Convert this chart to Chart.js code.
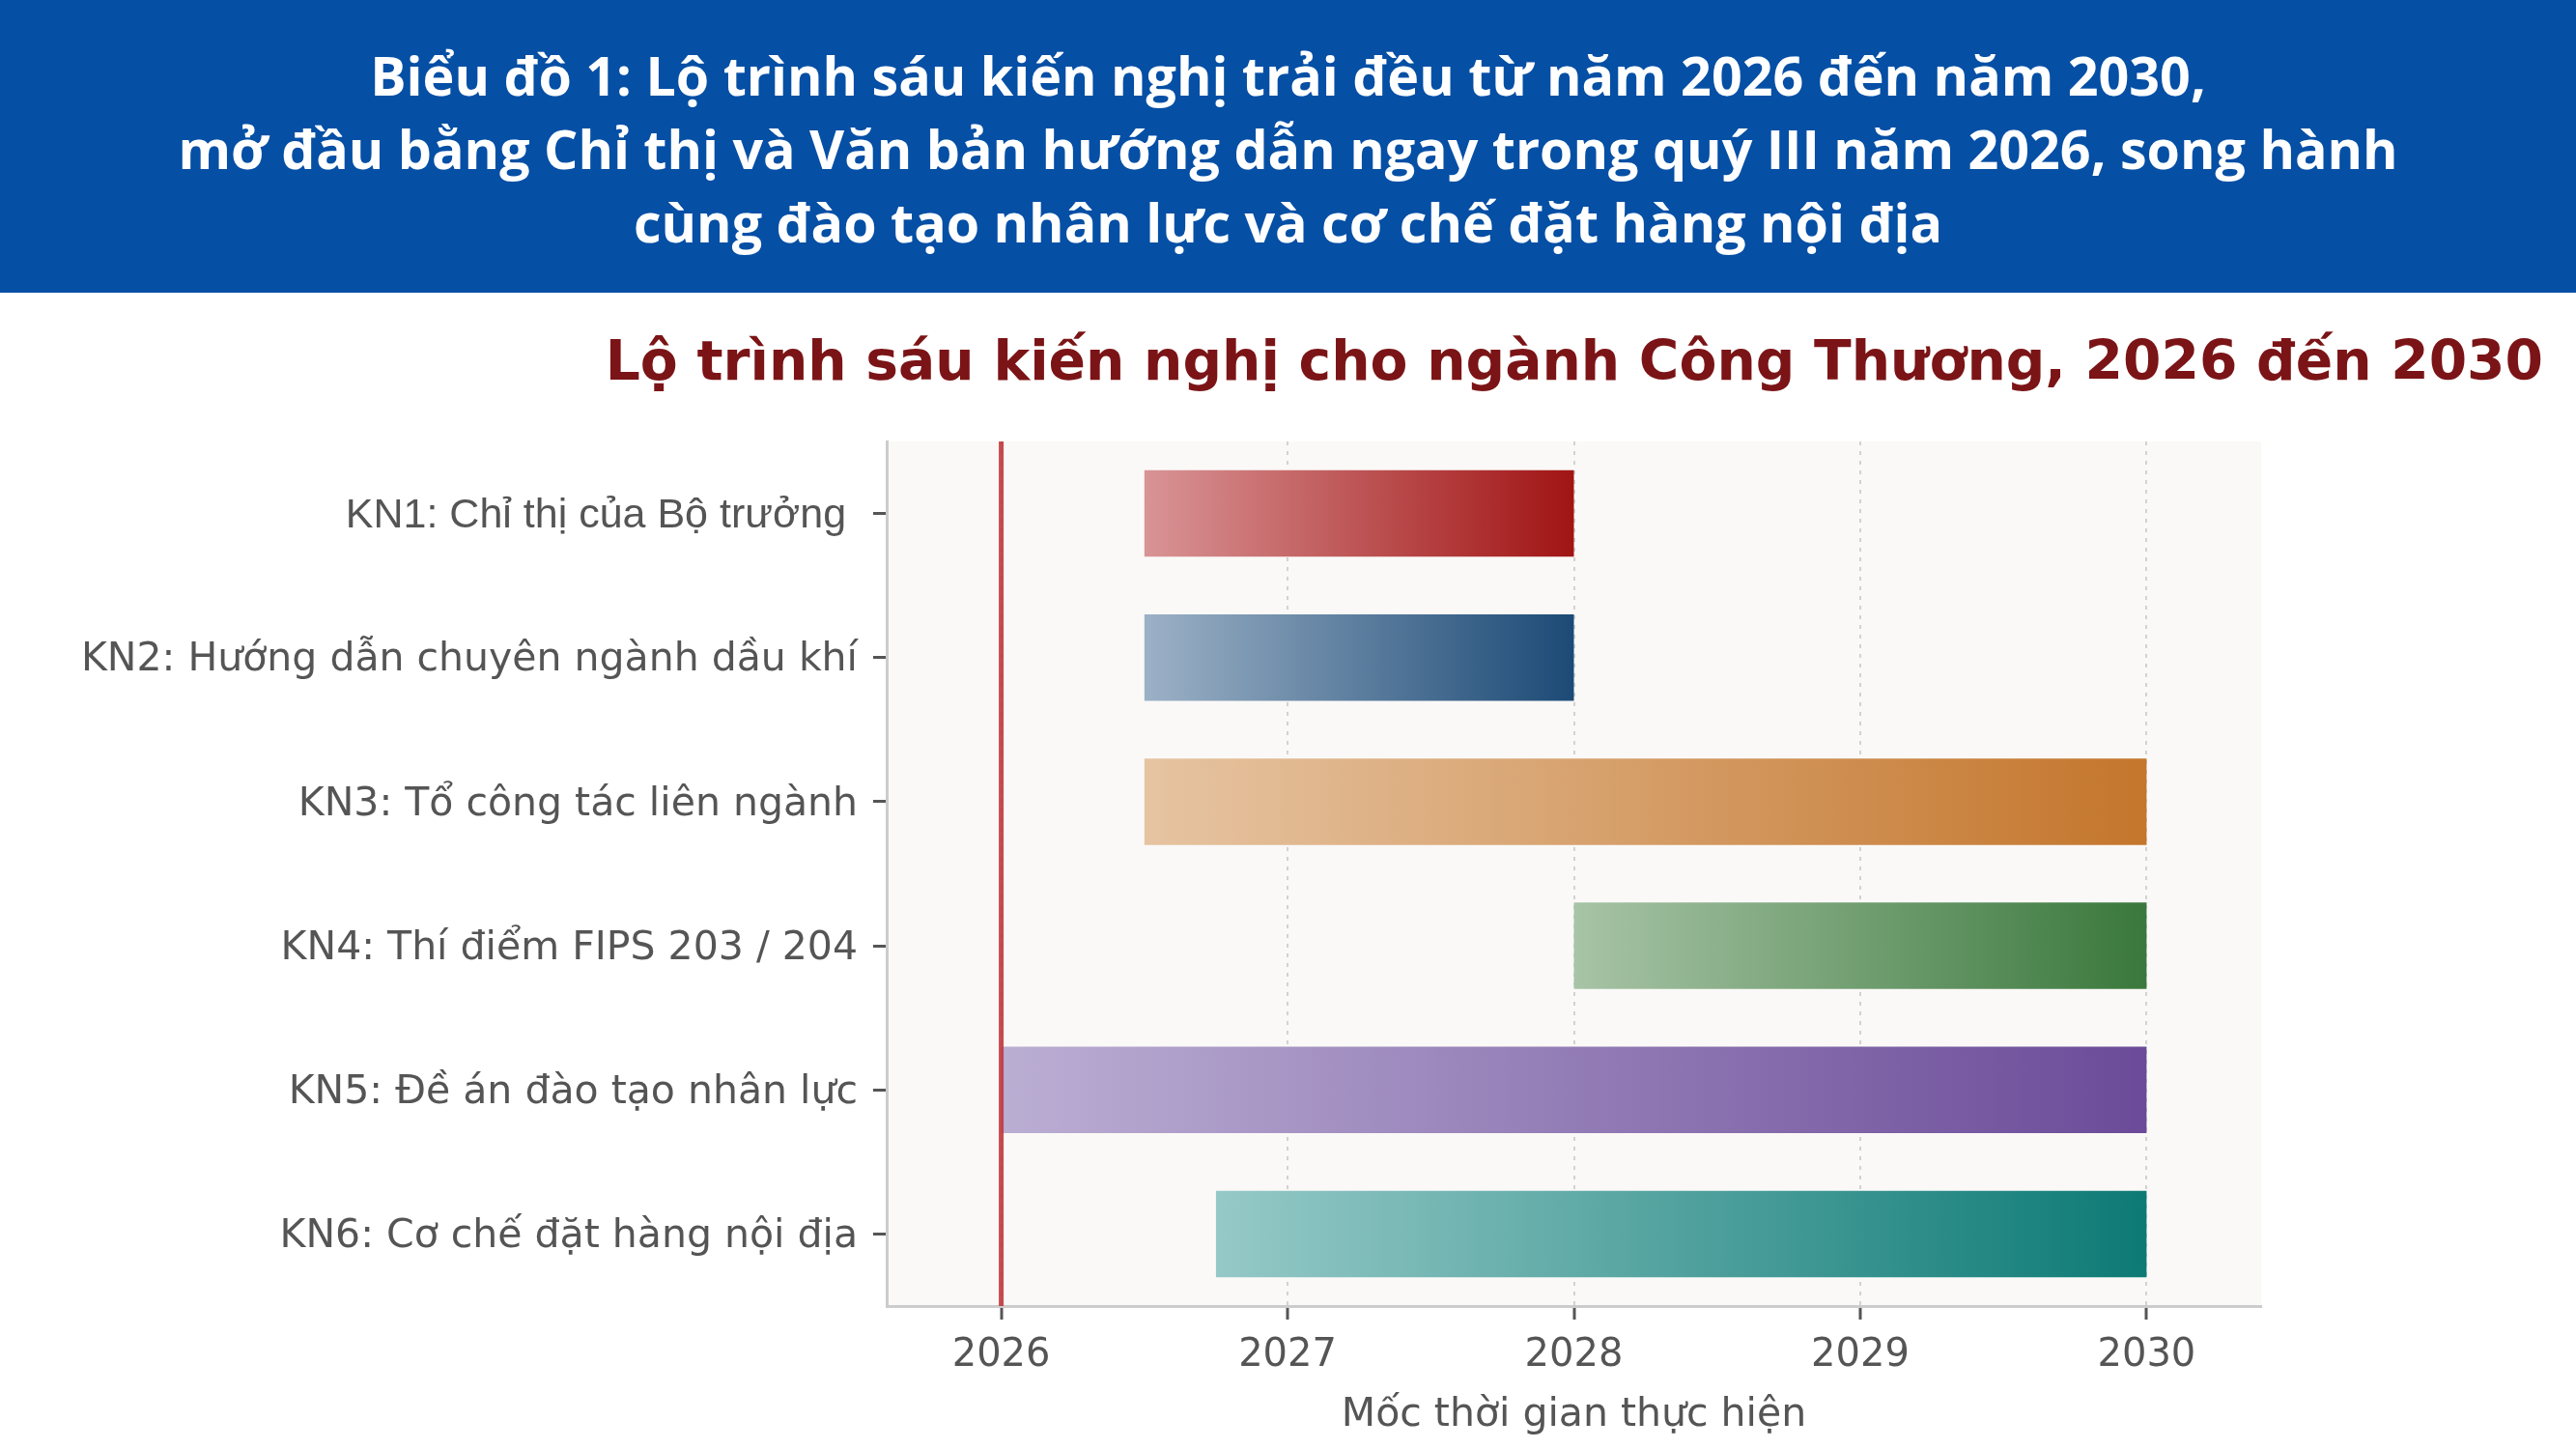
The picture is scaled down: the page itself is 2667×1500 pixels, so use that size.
<!DOCTYPE html>
<html lang="vi">
<head>
<meta charset="utf-8">
<title>Lộ trình sáu kiến nghị</title>
<script src="https://cdn.jsdelivr.net/npm/chart.js@4.4.1/dist/chart.umd.min.js"></script>
<style>
  html, body { margin: 0; padding: 0; background: #fff; }
  #page { position: relative; width: 2667px; height: 1500px; overflow: hidden; }
  #header {
    position: absolute; left: 0; top: 0; width: 2667px; height: 303px;
    background: #054fa5; color: #fff; z-index: 2;
    font-family: "Open Sans", sans-serif; font-weight: 700; font-size: 55.6px;
    line-height: 76px; text-align: center;
    display: flex; align-items: center; justify-content: center;
  }
  #header div { position: relative; top: 2px; }
  #subtitle {
    position: absolute; right: 34px; top: 335px; z-index: 2;
    font-family: "DejaVu Sans", sans-serif; font-weight: 700; font-size: 56.7px;
    color: #7b1416; white-space: nowrap; line-height: 76px;
  }
  #wrap { position: absolute; left: 0; top: 0; width: 2667px; height: 1500px; z-index: 1; }
</style>
</head>
<body>
<div id="page">
  <div id="header"><div>Biểu đồ 1: Lộ trình sáu kiến nghị trải đều từ năm 2026 đến năm 2030,<br>mở đầu bằng Chỉ thị và Văn bản hướng dẫn ngay trong quý III năm 2026, song hành<br>cùng đào tạo nhân lực và cơ chế đặt hàng nội địa</div></div>
  <div id="subtitle">Lộ trình sáu kiến nghị cho ngành Công Thương, 2026 đến 2030</div>
  <div id="wrap"><canvas id="roadmap"></canvas></div>
</div>
<script>
// data
const kienNghi = [
    'KN1: Chỉ thị của Bộ trưởng ',
    'KN2: Hướng dẫn chuyên ngành dầu khí',
    'KN3: Tổ công tác liên ngành',
    'KN4: Thí điểm FIPS 203 / 204',
    'KN5: Đề án đào tạo nhân lực',
    'KN6: Cơ chế đặt hàng nội địa'
];
const batDau = [2026.5, 2026.5, 2026.5, 2028, 2026, 2026.75];
const ketThuc = [2028, 2028, 2030, 2030, 2030, 2030];
const mocNam = [2026, 2027, 2028, 2029, 2030];
const mocKhoiDong = 2026;

// gradient colours, light at the start of each bar, dark at the end
const mauNhat = ['#d99496', '#9cb1c6', '#e6c4a2', '#a8c4a6', '#bbaed3', '#95c9c7'];
const mauDam = ['#a11414', '#1c4a76', '#c4762c', '#3a783c', '#6b4b99', '#0d7a75'];

document.addEventListener('DOMContentLoaded', function() {
    const ctx = document.getElementById('roadmap');

    const plotBackground = {
        id: 'plotBackground',
        beforeDraw(chart) {
            const a = chart.chartArea;
            const c = chart.ctx;
            c.save();
            c.fillStyle = '#faf9f7';
            c.fillRect(a.left, a.top, a.right - a.left, a.bottom - a.top);
            c.restore();
        }
    };

    const startLine = {
        id: 'startLine',
        afterDatasetsDraw(chart) {
            const a = chart.chartArea;
            const x = chart.scales.x.getPixelForValue(mocKhoiDong);
            const c = chart.ctx;
            c.save();
            c.strokeStyle = 'rgba(192, 57, 60, 0.9)';
            c.lineWidth = 5;
            c.beginPath();
            c.moveTo(x, a.top);
            c.lineTo(x, a.bottom);
            c.stroke();
            c.restore();
        }
    };

    new Chart(ctx, {
        type: 'bar',
        data: {
            labels: kienNghi,
            datasets: [{
                data: batDau.map((b, i) => [b, ketThuc[i]]),
                borderWidth: 0,
                borderSkipped: false,
                barPercentage: 0.6,
                categoryPercentage: 1.0,
                backgroundColor: function(c) {
                    const i = c.dataIndex || 0;
                    const chart = c.chart;
                    const xs = chart.scales.x;
                    if (!chart.chartArea || !xs) return mauDam[i];
                    const x0 = xs.getPixelForValue(batDau[i]);
                    const x1 = xs.getPixelForValue(ketThuc[i]);
                    const g = chart.ctx.createLinearGradient(x0, 0, x1, 0);
                    g.addColorStop(0, mauNhat[i]);
                    g.addColorStop(1, mauDam[i]);
                    return g;
                }
            }]
        },
        options: {
            indexAxis: 'y',
            responsive: false,
            animation: false,
            devicePixelRatio: 1,
            layout: { padding: { left: 0, top: 457, right: 326, bottom: 0 } },
            plugins: {
                legend: { display: false },
                tooltip: { enabled: false }
            },
            scales: {
                x: {
                    type: 'linear',
                    min: 2025.6,
                    max: 2030.4,
                    afterBuildTicks: s => { s.ticks = mocNam.map(v => ({ value: v })); },
                    afterFit: s => { s.height = 148; },
                    grid: {
                        color: '#d2d2d2',
                        lineWidth: 2,
                        drawTicks: true,
                        tickLength: 14,
                        tickColor: '#555555',
                        tickWidth: 3,
                        tickBorderDash: []
                    },
                    border: { display: true, color: '#cccccc', width: 3, dash: [4, 6] },
                    ticks: {
                        color: '#555555',
                        padding: 14,
                        font: { family: 'DejaVu Sans', size: 40 },
                        callback: v => String(v)
                    },
                    title: {
                        display: true,
                        text: 'Mốc thời gian thực hiện',
                        color: '#555555',
                        font: { family: 'DejaVu Sans', size: 41 },
                        padding: { top: 0, bottom: 10 }
                    }
                },
                y: {
                    afterFit: s => { s.width = 918; },
                    grid: {
                        offset: false,
                        drawOnChartArea: false,
                        drawTicks: true,
                        tickLength: 14,
                        tickColor: '#555555',
                        tickWidth: 3
                    },
                    border: { display: true, color: '#cccccc', width: 3 },
                    ticks: {
                        color: '#555555',
                        padding: 16,
                        labelOffset: 3,
                        // the first label is set in a narrower face in the original
                        font: c => (c.index === 0
                            ? { family: 'Liberation Sans', size: 43 }
                            : { family: 'DejaVu Sans', size: 41 })
                    }
                }
            }
        },
        plugins: [plotBackground, startLine]
    });
});
</script>
<script>
// canvas size set before the chart is built
(function() {
    const c = document.getElementById('roadmap');
    c.width = 2667;
    c.height = 1500;
    c.style.width = '2667px';
    c.style.height = '1500px';
})();
</script>
</body>
</html>
